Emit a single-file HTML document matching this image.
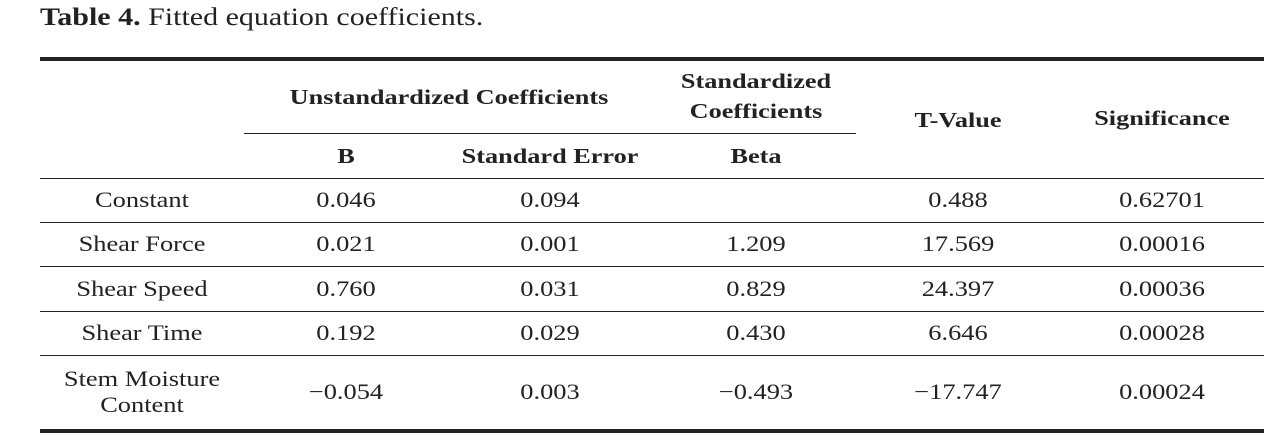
<!DOCTYPE html>
<html><head><style>
body{margin:0;width:1280px;height:435px;background:#fff;position:relative;overflow:hidden;font-family:"Liberation Serif",serif;color:#222}
.t{position:absolute;font-size:22px;white-space:nowrap;transform:translate(-50%,-50%) scaleX(1.2);text-align:center;line-height:26px}
.b{font-weight:bold;font-size:21px;transform:translate(-50%,-50%) scaleX(1.25)}
.l{position:absolute;background:#222}
</style></head><body>
<div style="position:absolute;left:40px;top:4px;font-size:25px;white-space:nowrap;transform:scaleX(1.2);transform-origin:left top"><b>Table 4.</b> Fitted equation coefficients.</div>
<div class="l" style="left:40px;top:57px;width:1224px;height:4px"></div>
<div class="l" style="left:244px;top:133px;width:612px;height:1px"></div>
<div class="l" style="left:40px;top:178px;width:1224px;height:1px"></div>
<div class="l" style="left:40px;top:222px;width:1224px;height:1px"></div>
<div class="l" style="left:40px;top:266px;width:1224px;height:1px"></div>
<div class="l" style="left:40px;top:311px;width:1224px;height:1px"></div>
<div class="l" style="left:40px;top:355px;width:1224px;height:1px"></div>
<div class="l" style="left:40px;top:429px;width:1224px;height:4px"></div>

<div class="t b" style="left:449px;top:97px">Unstandardized Coefficients</div>
<div class="t b" style="left:756px;top:96px;line-height:30px">Standardized<br>Coefficients</div>
<div class="t b" style="left:958px;top:120px">T-Value</div>
<div class="t b" style="left:1162px;top:118px">Significance</div>
<div class="t b" style="left:346px;top:156px">B</div>
<div class="t b" style="left:550px;top:156px">Standard Error</div>
<div class="t b" style="left:756px;top:156px">Beta</div>

<div class="t" style="left:142px;top:200px">Constant</div>
<div class="t" style="left:346px;top:200px">0.046</div>
<div class="t" style="left:550px;top:200px">0.094</div>
<div class="t" style="left:958px;top:200px">0.488</div>
<div class="t" style="left:1162px;top:200px">0.62701</div>

<div class="t" style="left:142px;top:244px">Shear Force</div>
<div class="t" style="left:346px;top:244px">0.021</div>
<div class="t" style="left:550px;top:244px">0.001</div>
<div class="t" style="left:756px;top:244px">1.209</div>
<div class="t" style="left:958px;top:244px">17.569</div>
<div class="t" style="left:1162px;top:244px">0.00016</div>

<div class="t" style="left:142px;top:289px">Shear Speed</div>
<div class="t" style="left:346px;top:289px">0.760</div>
<div class="t" style="left:550px;top:289px">0.031</div>
<div class="t" style="left:756px;top:289px">0.829</div>
<div class="t" style="left:958px;top:289px">24.397</div>
<div class="t" style="left:1162px;top:289px">0.00036</div>

<div class="t" style="left:142px;top:333px">Shear Time</div>
<div class="t" style="left:346px;top:333px">0.192</div>
<div class="t" style="left:550px;top:333px">0.029</div>
<div class="t" style="left:756px;top:333px">0.430</div>
<div class="t" style="left:958px;top:333px">6.646</div>
<div class="t" style="left:1162px;top:333px">0.00028</div>

<div class="t" style="left:142px;top:392px">Stem Moisture<br>Content</div>
<div class="t" style="left:346px;top:392px">−0.054</div>
<div class="t" style="left:550px;top:392px">0.003</div>
<div class="t" style="left:756px;top:392px">−0.493</div>
<div class="t" style="left:958px;top:392px">−17.747</div>
<div class="t" style="left:1162px;top:392px">0.00024</div>
</body></html>
